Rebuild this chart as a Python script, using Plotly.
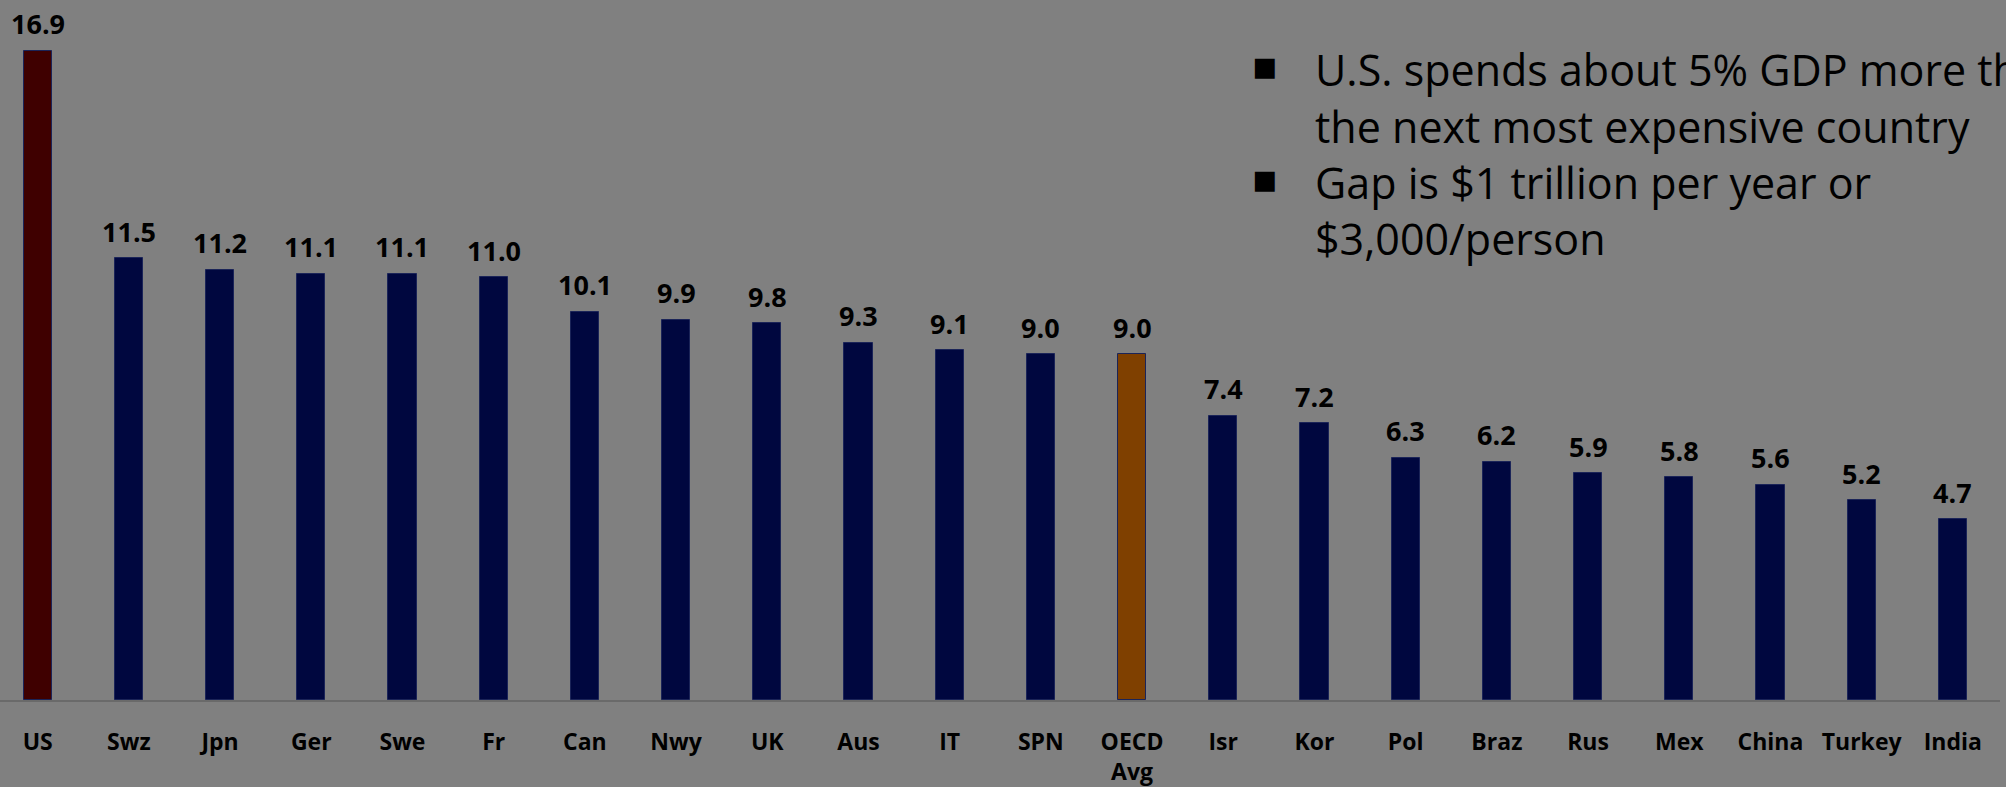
import plotly.graph_objects as go

countries = ["US", "Swz", "Jpn", "Ger", "Swe", "Fr", "Can", "Nwy", "UK", "Aus", "IT", "SPN",
             "OECD<br>Avg", "Isr", "Kor", "Pol", "Braz", "Rus", "Mex", "China", "Turkey", "India"]
spend_pct_gdp = [16.9, 11.5, 11.2, 11.1, 11.1, 11.0, 10.1, 9.9, 9.8, 9.3, 9.1, 9.0,
                 9.0, 7.4, 7.2, 6.3, 6.2, 5.9, 5.8, 5.6, 5.2, 4.7]
value_labels = [f"{v:.1f}" for v in spend_pct_gdp]
text_lines = ["U.S. spends about 5% GDP more than",
              "the next most expensive country",
              "Gap is $1 trillion per year or",
              "$3,000/person"]
bullet_on_line = [True, False, True, False]

NAVY = "#00073f"
RED = "#3f0000"
ORANGE = "#7f4000"
colors = []
for c in countries:
    if c == "US":
        colors.append(RED)
    elif c.startswith("OECD"):
        colors.append(ORANGE)
    else:
        colors.append(NAVY)

FONT = "'Open Sans', Lato, sans-serif"
xs = list(range(len(countries)))

PLOT_H = 787 - 83  # plot area height in px (t=0, b=83)


def paper_y(px):
    return 1 - px / PLOT_H


fig = go.Figure()
fig.add_trace(go.Bar(
    x=xs, y=spend_pct_gdp, width=0.31,
    marker=dict(color=colors, line=dict(color="#1b2458", width=1)),
    hoverinfo="skip",
))

for x, v, t in zip(xs, spend_pct_gdp, value_labels):
    fig.add_annotation(x=x, y=v, text=f"<b>{t}</b>", showarrow=False,
                       xanchor="center", yanchor="middle", yshift=27,
                       font=dict(family=FONT, size=27, color="#000000"))

# bullet text box (the first line runs past the right edge, as in the source slide)
line_centers_px = [70, 127, 184, 240]
for cy, txt, has_bullet in zip(line_centers_px, text_lines, bullet_on_line):
    fig.add_annotation(xref="paper", yref="paper", x=1313 / 2000, y=paper_y(cy), text=txt,
                       showarrow=False, xanchor="left", yanchor="middle", align="left",
                       font=dict(family=FONT, size=43, color="#000000"))
    if has_bullet:
        fig.add_annotation(xref="paper", yref="paper", x=1264 / 2000, y=paper_y(cy - 5),
                           text="▪", showarrow=False, xanchor="center", yanchor="middle",
                           font=dict(family="DejaVu Sans", size=40, color="#000000"))

fig.update_layout(
    width=2006, height=787,
    margin=dict(l=0, r=6, t=0, b=83),
    paper_bgcolor="#808080", plot_bgcolor="#808080",
    showlegend=False,
    bargap=0,
    xaxis=dict(
        range=[-0.413, 21.517],
        tickmode="array", tickvals=xs, ticktext=[f"<b>{c}</b>" for c in countries],
        tickfont=dict(family=FONT, size=23, color="#000000"),
        showline=True, linecolor="#6a6a6a", linewidth=2,
        showgrid=False, zeroline=False, ticks="", ticklabelstandoff=20,
        fixedrange=True,
    ),
    yaxis=dict(range=[0, 18.22], visible=False, showgrid=False, zeroline=False, fixedrange=True),
)

fig.write_html("out.html", config={"displayModeBar": False},
               post_script="document.body.style.margin='0';document.body.style.background='#808080';")
